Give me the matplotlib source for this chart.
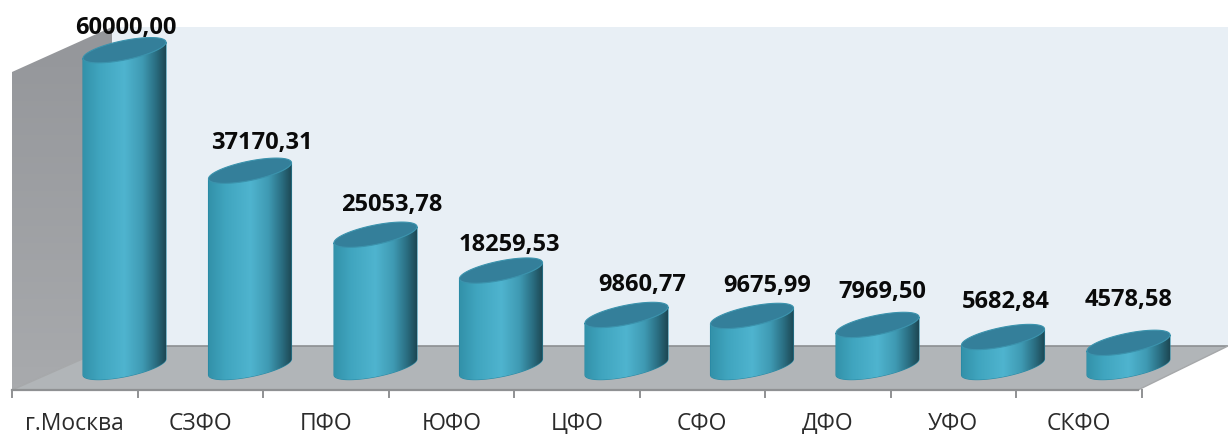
#!/usr/bin/env python

import numpy as np
import matplotlib
matplotlib.use("Agg")
import matplotlib.pyplot as plt
from matplotlib.colors import LinearSegmentedColormap
from matplotlib.patches import Polygon, PathPatch
from matplotlib.path import Path

# Данные
regions = ["г.Москва", "СЗФО", "ПФО", "ЮФО", "ЦФО", "СФО", "ДФО", "УФО", "СКФО"]
values = [60000.00, 37170.31, 25053.78, 18259.53, 9860.77, 9675.99, 7969.50, 5682.84, 4578.58]
value_labels = ["60000,00", "37170,31", "25053,78", "18259,53", "9860,77", "9675,99", "7969,50", "5682,84", "4578,58"]

# Сдвиг подписей от центра верхнего эллипса (в пикселях)
label_dx = [1, 12, 16, 8, 16, 15, 5, 3, 0]
label_dy = [22, 28, 30, 26, 30, 30, 33, 35, 43]

# Масштаб: пикселей на категорию и на единицу значения
step_px = 125.5
unit_px = 0.00528
w_px, h_px = 1228, 434
x0_px, y0_px = 124.5, 367.0


def dx(px):
    return px / step_px


def dy(px):
    return px / unit_px


fig = plt.figure(figsize=(12.28, 4.34), dpi=100)
ax = fig.add_axes([0, 0, 1, 1])
ax.set_axis_off()
xlim = (-x0_px / step_px, (w_px - x0_px) / step_px)
ylim = (-(h_px - y0_px) / unit_px, y0_px / unit_px)


# Координаты стен и пола: пиксели -> данные
def P(x, y):
    return ((x - x0_px) / step_px, (y0_px - y) / unit_px)


cyl_cmap = LinearSegmentedColormap.from_list("cyl", [
    (0.0, "#3392aa"), (0.2, "#40a5bf"), (0.5, "#4fb4cf"),
    (0.72, "#3f9ab3"), (0.88, "#2a6e82"), (1.0, "#1d4854")])
wall_cmap = LinearSegmentedColormap.from_list("wall", ["#94969a", "#a8aaad"])

# Задняя стена
ax.add_patch(Polygon([P(112, 27), P(1228, 27), P(1228, 346), P(112, 346)],
                     facecolor="#e8eff5", edgecolor="none", zorder=1))

# Левая стена с градиентом
wall = Polygon([P(12, 72), P(112, 27), P(112, 346), P(12, 390)], facecolor="none", edgecolor="none", zorder=1)
ax.add_patch(wall)
x_a, y_a = P(12, 390)
x_b, y_b = P(112, 27)
im = ax.imshow(np.linspace(0, 1, 64).reshape(-1, 1), cmap=wall_cmap, extent=[x_a, x_b, y_a, y_b],
               origin="upper", aspect="auto", zorder=1)
im.set_clip_path(wall)

# Пол
ax.add_patch(Polygon([P(12, 390), P(112, 346), P(1228, 346), P(1138, 390)],
                     facecolor="#b1b5b8", edgecolor="none", zorder=2))
ax.plot(*zip(P(112, 346), P(1228, 346)), color="#8c8f92", lw=1.2, zorder=2)
ax.plot(*zip(P(1138, 390), P(1228, 346)), color="#a6a8aa", lw=1.0, zorder=2)
ax.plot(*zip(P(12, 390), P(112, 346)), color="#a6a8aa", lw=1.0, zorder=2)

# Ось и засечки
ax.plot(*zip(P(12, 390), P(1138, 390)), color="#8f9193", lw=1.6, zorder=3)
for i in range(len(regions) + 1):
    ax.plot(*zip(P(12 + step_px * i, 390), P(12 + step_px * i, 397)),
            color="#8f9193", lw=1.4, zorder=3)

# Цилиндры
half_w = dx(41.5)
shear = 8.0
minor = 9.8
t = np.linspace(0, 2 * np.pi, 121)
for i, v in enumerate(values):
    z = 10 + i
    # нижняя половина эллипса основания
    tb = np.linspace(np.pi, 2 * np.pi, 60)
    xb = i + half_w * np.cos(tb)
    yb = dy(-minor * np.abs(np.sin(tb)) + shear * np.cos(tb))
    tt = np.linspace(0, np.pi, 60)
    xt = i + half_w * np.cos(tt)
    yt = v + dy(-minor * np.sin(tt) + shear * np.cos(tt))
    verts = list(zip(xb, yb)) + list(zip(xt, yt)) + [(xb[0], yb[0])]
    body = PathPatch(Path(verts), facecolor="none", edgecolor="#2a8aa5", lw=0.8, zorder=z)
    ax.add_patch(body)
    grad = ax.imshow(np.linspace(0, 1, 128).reshape(1, -1), cmap=cyl_cmap,
                     extent=[i - half_w, i + half_w, yb.min(), v + dy(20)],
                     aspect="auto", zorder=z)
    grad.set_clip_path(body)
    # верхний эллипс
    xe = i + half_w * np.cos(t)
    ye = v + dy(minor * np.sin(t) + shear * np.cos(t))
    ax.fill(xe, ye, facecolor="#347f9a", edgecolor="#3b93ad", lw=0.8, zorder=z + 0.5)
    # подпись значения
    ax.annotate(value_labels[i], xy=(i, v), xytext=(label_dx[i] * 0.72, label_dy[i] * 0.72),
                textcoords="offset points", ha="center", va="center",
                fontsize=17, fontweight="bold", family="Open Sans", color="#0a0a0a", zorder=40)
    # подпись категории
    ax.text(*P(12 + step_px * (i + 0.5), 424), regions[i], ha="center", va="center",
            fontsize=16.5, family="Open Sans", color="#2b2b2b", zorder=40)

ax.set_xlim(xlim)
ax.set_ylim(ylim)
fig.savefig("out.png", dpi=100, facecolor="white")
